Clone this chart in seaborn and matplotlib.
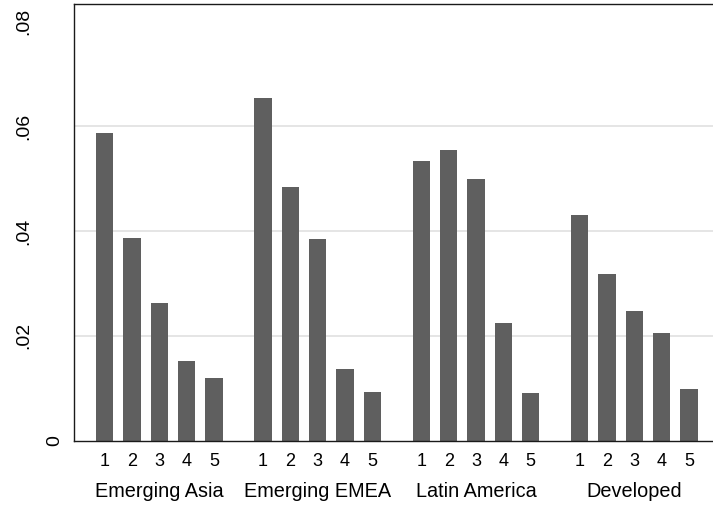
import matplotlib
matplotlib.use("Agg")
import matplotlib.pyplot as plt
import matplotlib.transforms as mtransforms
import seaborn as sns
import pandas as pd
import numpy as np

# ---- data ----
regions = ["Emerging Asia", "Emerging EMEA", "Latin America", "Developed"]
quintiles = ["1", "2", "3", "4", "5"]
emerging_asia = [0.0587, 0.0386, 0.0263, 0.0151, 0.0119]
emerging_emea = [0.0654, 0.0484, 0.0384, 0.0136, 0.0093]
latin_america = [0.0534, 0.0554, 0.0500, 0.0225, 0.0090]
developed = [0.0430, 0.0318, 0.0247, 0.0205, 0.0099]
ytick_values = [0, 0.02, 0.04, 0.06, 0.08]
ytick_labels = ["0", ".02", ".04", ".06", ".08"]

series = [emerging_asia, emerging_emea, latin_america, developed]
rows = []
for reg, vals in zip(regions, series):
    for q, v in zip(quintiles, vals):
        rows.append({"region": reg, "quintile": q, "value": v})
df = pd.DataFrame(rows)

sns.set_theme(style="white")
plt.rcParams["font.family"] = ["Liberation Sans", "DejaVu Sans"]

BAR = "#5f5f5f"
fig = plt.figure(figsize=(7.13, 5.07), dpi=100)
ax = fig.add_axes([74 / 713, 1 - 440.5 / 507, (719.8 - 74) / 713, (440.5 - 4) / 507])

sns.barplot(data=df, x="region", y="value", hue="quintile", order=regions,
            hue_order=quintiles, palette=[BAR] * 5, width=0.8636, gap=0.367,
            legend=False, ax=ax, linewidth=0, saturation=1, errorbar=None)

ax.set_xlim(-0.539, 3.539)
ax.set_ylim(0, 0.08338)
ax.set_xlabel("")
ax.set_ylabel("")

# bar-level tick labels taken from the drawn bars
centers = sorted(p.get_x() + p.get_width() / 2 for p in ax.patches)
ax.set_xticks(centers)
ax.set_xticklabels(quintiles * len(regions), fontsize=13)
ax.tick_params(axis="x", length=0, pad=9, colors="black")

# group labels
trans = mtransforms.blended_transform_factory(ax.transData, ax.transAxes)
off = mtransforms.ScaledTranslation(0, -36.5 / 72, fig.dpi_scale_trans)
for i, reg in enumerate(regions):
    ax.text(i, 0, reg, transform=trans + off, ha="center", va="center",
            fontsize=14.3, color="black")

# y axis
ax.set_yticks(ytick_values)
ax.set_yticklabels(ytick_labels, rotation=90, fontsize=14, va="center")
ax.tick_params(axis="y", length=5, width=0.9, color="#333333", direction="out",
               labelcolor="black")
for t in ax.yaxis.get_major_ticks():
    t.set_pad(25)
ax.yaxis.get_major_ticks()[0].set_pad(3)

ax.yaxis.grid(True, color="#e3e3e3", linewidth=1.3)
ax.xaxis.grid(False)
gl = ax.get_ygridlines()
gl[0].set_visible(False)
gl[-1].set_visible(False)
ax.set_axisbelow(True)

for s in ["left", "bottom", "top"]:
    ax.spines[s].set_visible(True)
    ax.spines[s].set_color("#1a1a1a")
    ax.spines[s].set_linewidth(1.0)
ax.spines["right"].set_visible(False)

fig.savefig("out.png", dpi=100)
